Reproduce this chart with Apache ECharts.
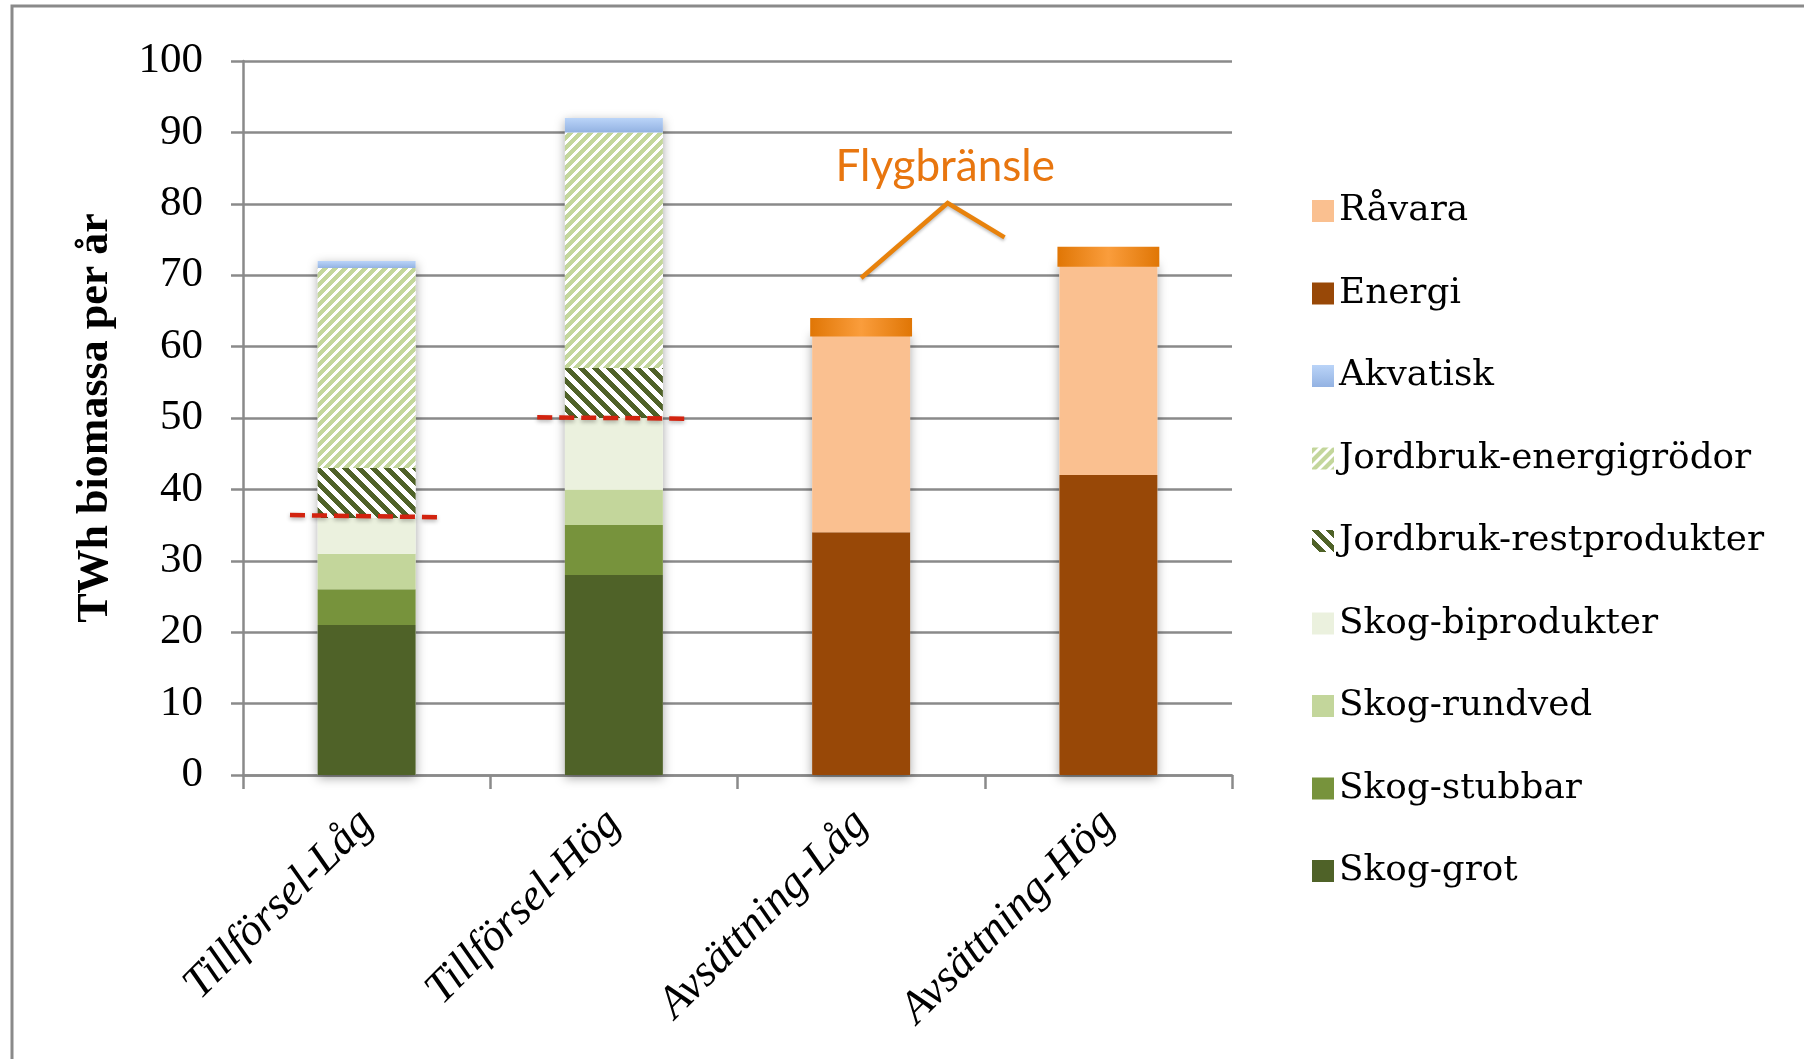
<!DOCTYPE html>
<html>
<head>
<meta charset="utf-8">
<script src="https://cdn.jsdelivr.net/npm/echarts@6/dist/echarts.min.js"></script>
<style>
html,body{margin:0;padding:0;background:#fff;}
#chart{width:1804px;height:1059px;}
</style>
</head>
<body>
<div id="chart"></div>
<script>
// ---- data ----
const categories = ['Tillförsel-Låg', 'Tillförsel-Hög', 'Avsättning-Låg', 'Avsättning-Hög'];
const skogGrot = [21, 28, null, null];
const skogStubbar = [5, 7, null, null];
const skogRundved = [5, 5, null, null];
const skogBiprodukter = [5, 10, null, null];
const jordbrukRest = [7, 7, null, null];
const jordbrukEnergi = [28, 33, null, null];
const akvatisk = [1, 2, null, null];
const energi = [null, null, 34, 42];
const ravara = [null, null, 28, 30];
// Flygbränsle: [category index, from, to]
const flygbransle = [[2, 61.4, 64.0], [3, 71.2, 74.0]];
// red dashed limits: [category index, value at left end, value at right end]
const limits = [[0, 36.4, 36.1], [1, 50.1, 49.9]];
// annotation pointer for Flygbränsle: [category position, value]
const flygPointer = [[2.0, 69.6], [2.35, 80.1], [2.58, 75.3]];
const flygLabelPos = [2.34, 85.2];
const yTicks = {min: 0, max: 100, interval: 10};
const legendOrder = ['Råvara', 'Energi', 'Akvatisk', 'Jordbruk-energigrödor', 'Jordbruk-restprodukter',
  'Skog-biprodukter', 'Skog-rundved', 'Skog-stubbar', 'Skog-grot'];

// ---- patterns ----
function stripes(fg, period, dir, ratio) {
  const c = document.createElement('canvas');
  c.width = period; c.height = period;
  const ctx = c.getContext('2d');
  const img = ctx.createImageData(period, period);
  const r = parseInt(fg.slice(1, 3), 16), g = parseInt(fg.slice(3, 5), 16), b = parseInt(fg.slice(5, 7), 16);
  for (let y = 0; y < period; y++) {
    for (let x = 0; x < period; x++) {
      const t = dir === '/' ? (x + y) % period : ((x - y) % period + period) % period;
      const i = (y * period + x) * 4;
      const on = t < period * ratio;
      img.data[i] = on ? r : 255; img.data[i + 1] = on ? g : 255; img.data[i + 2] = on ? b : 255; img.data[i + 3] = 255;
    }
  }
  ctx.putImageData(img, 0, 0);
  return {image: c, repeat: 'repeat'};
}
const energiPattern = stripes('#C3D69B', 10, '/', 0.55);
const restPattern = stripes('#4F6228', 14, '\\', 0.5);
const akvatiskGrad = new echarts.graphic.LinearGradient(0, 0, 0, 1, [
  {offset: 0, color: '#BAD4F8'}, {offset: 1, color: '#93B2E2'}]);
const capGrad = new echarts.graphic.LinearGradient(0, 0, 1, 0, [
  {offset: 0, color: '#E07605'}, {offset: 0.5, color: '#FA9D3C'}, {offset: 1, color: '#E07605'}]);

const serif = 'Liberation Serif';
const legendFont = 'DejaVu Serif';
const BARW = 98;

function totals() {
  const arrs = [skogGrot, skogStubbar, skogRundved, skogBiprodukter, jordbrukRest, jordbrukEnergi, akvatisk, energi, ravara];
  return categories.map((_, i) => arrs.reduce((s, a) => s + (a[i] || 0), 0));
}

function stackSeries(name, data, color) {
  return {
    name: name, type: 'bar', stack: 'total', data: data, barWidth: BARW, barGap: '-100%', z: 3,
    itemStyle: {color: color},
    emphasis: {disabled: true}
  };
}

const option = {
  animation: false,
  backgroundColor: '#fff',
  grid: {left: 243, top: 61, right: 572, bottom: 284, containLabel: false, outerBoundsMode: 'none'},
  legend: {
    orient: 'vertical', left: 1307, top: 186,
    data: legendOrder,
    itemWidth: 22, itemHeight: 22, itemGap: 42.5,
    icon: 'rect',
    selectedMode: false,
    textStyle: {fontFamily: legendFont, fontSize: 35.8, color: '#000', lineHeight: 40, padding: [0, 0, 0, 0]},
  },
  xAxis: {
    type: 'category', data: categories,
    axisLine: {lineStyle: {color: '#8A8A8A', width: 2.5}},
    axisTick: {show: true, length: 14, alignWithLabel: false, interval: 0, lineStyle: {color: '#8A8A8A', width: 2.5}},
    axisLabel: {rotate: 45, margin: 42, interval: 0, fontFamily: serif, fontStyle: 'italic', fontSize: 45, color: '#000'}
  },
  yAxis: {
    type: 'value', min: yTicks.min, max: yTicks.max, interval: yTicks.interval,
    name: 'TWh biomassa per år', nameLocation: 'middle', nameGap: 125,
    nameTextStyle: {fontFamily: serif, fontWeight: 'bold', fontSize: 44, color: '#000'},
    axisLine: {show: true, lineStyle: {color: '#8A8A8A', width: 2.5}},
    axisTick: {show: true, length: 12, lineStyle: {color: '#8A8A8A', width: 2.5}},
    splitLine: {show: true, lineStyle: {color: '#8A8A8A', width: 2.5}},
    axisLabel: {margin: 40, fontFamily: serif, fontSize: 43, color: '#000'}
  },
  series: [
    {
      name: 'shadow', type: 'bar', data: totals().map(v => v || null), barWidth: BARW, barGap: '-100%', z: 2,
      itemStyle: {color: '#fff', shadowBlur: 10, shadowColor: 'rgba(0,0,0,0.35)', shadowOffsetY: 3},
      silent: true, emphasis: {disabled: true}
    },
    stackSeries('Skog-grot', skogGrot, '#4F6228'),
    stackSeries('Skog-stubbar', skogStubbar, '#77933C'),
    stackSeries('Skog-rundved', skogRundved, '#C3D69B'),
    stackSeries('Skog-biprodukter', skogBiprodukter, '#EBF1DE'),
    stackSeries('Jordbruk-restprodukter', jordbrukRest, restPattern),
    stackSeries('Jordbruk-energigrödor', jordbrukEnergi, energiPattern),
    stackSeries('Akvatisk', akvatisk, akvatiskGrad),
    stackSeries('Energi', energi, '#984807'),
    stackSeries('Råvara', ravara, '#FAC090'),
    {
      name: 'Flygbränsle', type: 'custom', data: flygbransle, z: 5,
      encode: {x: 0, y: [1, 2]},
      renderItem: function (params, api) {
        const top = api.coord([api.value(0), api.value(2)]);
        const bot = api.coord([api.value(0), api.value(1)]);
        const w = api.size([1, 0])[0] * 0.412;
        return {
          type: 'rect',
          shape: {x: top[0] - w / 2, y: top[1], width: w, height: bot[1] - top[1]},
          style: {fill: capGrad, shadowBlur: 5, shadowColor: 'rgba(0,0,0,0.35)', shadowOffsetY: 2}
        };
      }
    },
    {
      name: 'limits', type: 'custom', data: limits, z: 6,
      encode: {x: 0, y: [1, 2]},
      renderItem: function (params, api) {
        const c = api.value(0);
        const a = api.coord([c, api.value(1)]);
        const b = api.coord([c, api.value(2)]);
        const half = api.size([1, 0])[0] * 0.31;
        return {
          type: 'line',
          shape: {x1: a[0] - half, y1: a[1], x2: b[0] + half, y2: b[1]},
          style: {stroke: '#D2230F', lineWidth: 4.5, lineDash: [15, 7], shadowBlur: 4, shadowColor: 'rgba(0,0,0,0.3)', shadowOffsetY: 2}
        };
      }
    }
  ]
};

const chart = echarts.init(document.getElementById('chart'), null, {renderer: 'canvas'});
chart.setOption(option);

function px(pos) {
  const c0 = Math.floor(pos[0]);
  const a = chart.convertToPixel({gridIndex: 0}, [c0, pos[1]]);
  const b = chart.convertToPixel({gridIndex: 0}, [c0 + 1, pos[1]]);
  return [a[0] + (pos[0] - c0) * (b[0] - a[0]), a[1]];
}
const lbl = px(flygLabelPos);
chart.setOption({
  graphic: [
    {type: 'rect', shape: {x: 12, y: 6, width: 1900, height: 1200}, style: {fill: 'none', stroke: '#8A8A8A', lineWidth: 3}, silent: true, z: 0},
    {type: 'polyline', shape: {points: flygPointer.map(px)}, style: {stroke: '#E8820C', lineWidth: 4.5, fill: 'none', shadowBlur: 3, shadowColor: 'rgba(0,0,0,0.25)', shadowOffsetY: 2}, z: 10},
    {type: 'text', x: lbl[0], y: lbl[1], style: {text: 'Flygbränsle', fill: '#E8760F', font: '44px Lato', textAlign: 'center', textVerticalAlign: 'middle'}, z: 10}
  ]
});
</script>
</body>
</html>
